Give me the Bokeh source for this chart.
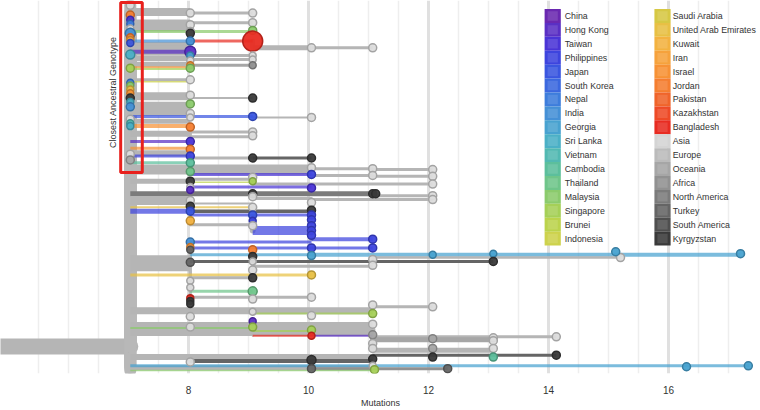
from bokeh.plotting import figure
from bokeh.models import Range1d, FixedTicker, BoxAnnotation, Label, ColumnDataSource
from bokeh.embed import file_html
from bokeh.resources import INLINE
from bokeh.core.properties import value

FONT = "Liberation Sans"

# ---------------- legend / colour scale ----------------
countries_left = ["China", "Hong Kong", "Taiwan", "Philippines", "Japan", "South Korea", "Nepal",
                  "India", "Georgia", "Sri Lanka", "Vietnam", "Cambodia", "Thailand", "Malaysia",
                  "Singapore", "Brunei", "Indonesia"]
countries_right = ["Saudi Arabia", "United Arab Emirates", "Kuwait", "Iran", "Israel", "Jordan",
                   "Pakistan", "Kazakhstan", "Bangladesh", "Asia", "Europe", "Oceania", "Africa",
                   "North America", "Turkey", "South America", "Kyrgyzstan"]
colors_left = ["#6a28b0", "#5a2fc4", "#4a34d6", "#3d44de", "#3a56e0", "#3b68df", "#3d7ddc",
               "#4590d6", "#48a2d0", "#4bb0c6", "#52b9b2", "#5cbf9c", "#6fc58a", "#8bcb6c",
               "#a5d057", "#bbd34c", "#cdd24c"]
colors_right = ["#d6c844", "#e8c044", "#f3b240", "#f6a23c", "#f79235", "#f57e30", "#f0642a",
                "#ee4a26", "#e82c22", "#d4d4d4", "#bbbbbb", "#a6a6a6", "#919191", "#7b7b7b",
                "#656565", "#4f4f4f", "#3a3a3a"]
COL = dict(zip(countries_left + countries_right, colors_left + colors_right))

# ---------------- tree branches ----------------
# (parent mutations, mutations, parent row, row, country, weight)
root_stem = [(4.6, 7.03, 358, 358, "Europe", 16)]

top_branches = [
    (7.03, 8.03, 358, 12, "Europe", 8), (8.03, 9.07, 12, 13, "Europe", 3),
    (7.03, 8.03, 358, 26, "Europe", 12), (8.03, 9.07, 26, 23, "Europe", 3),
    (7.03, 9.07, 358, 32, "Malaysia", 3),
    (7.03, 8.03, 358, 45, "Europe", 4),
    (7.03, 8.03, 358, 42, "India", 3), (8.03, 9.07, 42, 42, "Bangladesh", 3),
    (9.07, 10.05, 42, 49, "Europe", 5), (10.05, 11.07, 49, 49, "Europe", 3),
    (7.03, 8.03, 358, 52, "Europe", 10), (7.03, 8.03, 358, 53, "Hong Kong", 4),
    (7.03, 8.03, 358, 60, "Europe", 5),
    (8.03, 9.07, 52, 57, "Europe", 3), (8.03, 9.07, 52, 61, "Europe", 3),
    (7.03, 8.03, 358, 66, "Europe", 5), (8.03, 9.07, 66, 67, "Oceania", 3),
    (7.03, 8.03, 358, 69, "Israel", 2), (7.03, 8.03, 358, 71, "Singapore", 2),
    (7.03, 8.03, 358, 82, "Europe", 3),
    (7.03, 8.03, 358, 84, "Indonesia", 1.5),
    (7.03, 8.03, 358, 99, "Europe", 8), (8.03, 9.07, 99, 101, "Europe", 2),
    (7.03, 8.03, 358, 112, "Europe", 14),
    (7.03, 9.07, 358, 120, "Japan", 3), (9.07, 10.05, 120, 121, "Europe", 2),
    (7.03, 8.03, 358, 125, "Europe", 5),
    (7.03, 8.03, 358, 130, "Israel", 4),
    (7.03, 8.03, 358, 138, "Europe", 6), (8.03, 9.07, 138, 136, "Europe", 3),
    (8.03, 9.07, 138, 141, "Europe", 3),
    (7.03, 8.03, 358, 146, "Hong Kong", 3), (7.03, 8.03, 358, 153, "Israel", 3),
    (7.03, 8.03, 358, 158, "Europe", 6),
    (7.03, 8.03, 358, 161, "Philippines", 3), (8.03, 9.07, 161, 163, "Europe", 3),
    (9.07, 10.05, 163, 163, "Turkey", 3),
    (7.03, 8.03, 358, 168, "Cambodia", 3),
]

mid_branches = [
    (7.03, 10.05, 358, 175, "Europe", 10), (10.05, 11.07, 175, 174, "Europe", 3),
    (11.07, 12.07, 174, 175, "Europe", 3),
    (8.03, 10.05, 175, 180, "Taiwan", 3),
    (10.05, 11.07, 180, 181, "Europe", 3), (11.07, 12.07, 181, 182, "Europe", 3),
    (7.03, 8.03, 358, 187, "Europe", 5), (8.03, 9.07, 187, 185, "Europe", 3),
    (8.03, 9.07, 187, 188, "Brunei", 1.5), (9.07, 12.07, 185, 190, "Europe", 3),
    (8.03, 10.05, 187, 193, "Taiwan", 3),
    (7.03, 11.07, 358, 200, "North America", 5), (11.07, 12.07, 200, 202, "Europe", 3),
    (9.07, 10.05, 200, 205, "Europe", 3), (10.05, 12.07, 205, 206, "Europe", 3),
    (7.03, 8.03, 358, 207, "Europe", 9),
    (7.03, 9.07, 358, 210, "Europe", 2), (7.03, 9.07, 358, 214, "United Arab Emirates", 2),
    (7.03, 8.03, 358, 218, "Philippines", 5), (8.03, 10.05, 218, 218, "Turkey", 3.5),
    (8.03, 10.05, 218, 222, "Philippines", 3), (8.03, 9.07, 218, 232, "Europe", 3),
    (9.07, 10.05, 232, 238, "Philippines", 9), (10.05, 11.07, 238, 247, "Philippines", 4),
    (7.03, 8.03, 358, 272, "Europe", 16),
    (8.03, 10.05, 272, 250, "Philippines", 3), (8.03, 10.05, 272, 256, "Philippines", 3),
    (10.05, 11.07, 256, 256, "Philippines", 3),
    (8.03, 10.05, 272, 263, "Georgia", 3), (10.05, 17.2, 263, 263, "Georgia", 4),
    (8.03, 13.08, 272, 270, "Turkey", 3), (11.07, 15.2, 270, 266, "Europe", 2.5),
    (9.07, 11.07, 270, 275, "Europe", 3),
    (7.03, 10.05, 358, 284, "United Arab Emirates", 3),
    (8.03, 9.07, 272, 287, "Europe", 3), (8.03, 9.07, 272, 301, "Thailand", 3),
    (8.03, 10.05, 272, 307, "Europe", 3),
]

low_branches = [
    (7.03, 11.07, 358, 321, "Europe", 7), (11.07, 12.07, 321, 317, "Europe", 3),
    (9.07, 11.07, 321, 324, "Singapore", 2),
    (7.03, 11.07, 358, 340, "Europe", 14),
    (7.03, 9.07, 358, 339, "Malaysia", 2), (9.07, 10.05, 339, 342, "Singapore", 2),
    (9.07, 10.05, 339, 347, "Bangladesh", 2), (10.05, 11.07, 347, 347, "Hong Kong", 2),
    (11.07, 14.13, 340, 348, "Europe", 3), (11.07, 13.08, 340, 351, "Oceania", 5),
    (11.07, 13.08, 340, 362, "Europe", 5),
    (7.03, 11.07, 358, 369, "Europe", 6), (11.07, 14.13, 369, 367, "Turkey", 3),
    (8.03, 11.07, 369, 373, "Turkey", 4),
    (7.03, 11.07, 358, 380, "Europe", 5),
    (7.03, 17.35, 358, 378, "Georgia", 3),
    (10.05, 12.32, 373, 381, "Africa", 3),
    (7.03, 11.07, 358, 383, "Malaysia", 1.5),
]

# ---------------- sampled genotypes (points) ----------------
# (mutations, row, country, size)
pts_m7 = [(7.03, 5, "Asia", 8), (7.03, 15, "Jordan", 8), (7.03, 20, "Taiwan", 7), (7.03, 24, "Nepal", 7),
          (7.03, 29, "Asia", 7), (7.03, 34, "India", 10), (7.03, 38, "Jordan", 7), (7.03, 41, "Iran", 7),
          (7.03, 44, "Japan", 7), (7.03, 56, "Sri Lanka", 9), (7.03, 70, "Singapore", 8),
          (7.03, 85, "Nepal", 7), (7.03, 88, "Malaysia", 7), (7.03, 92, "United Arab Emirates", 7),
          (7.03, 96, "Israel", 7), (7.03, 101, "Kyrgyzstan", 8), (7.03, 105, "Sri Lanka", 7),
          (7.03, 110, "India", 8), (7.03, 123, "Asia", 8), (7.03, 127, "Vietnam", 7),
          (7.03, 130, "Sri Lanka", 7), (7.03, 159, "Asia", 8), (7.03, 165, "Oceania", 8)]
pts_m8 = [(8.03, 13, "Asia", 8), (8.03, 25, "Asia", 8), (8.03, 32, "Asia", 8), (8.03, 34, "Kyrgyzstan", 8),
          (8.03, 42, "India", 8), (8.03, 53, "Hong Kong", 11), (8.03, 57, "Georgia", 7),
          (8.03, 62, "Asia", 7), (8.03, 67, "Israel", 7), (8.03, 70, "Malaysia", 8),
          (8.03, 82, "Asia", 8), (8.03, 98, "Asia", 8), (8.03, 107, "Malaysia", 8),
          (8.03, 117, "Asia", 8), (8.03, 121, "Asia", 7), (8.03, 131, "Jordan", 8),
          (8.03, 146, "Taiwan", 8), (8.03, 154, "Jordan", 8), (8.03, 161, "Philippines", 8),
          (8.03, 168, "Cambodia", 8), (8.03, 177, "Thailand", 8), (8.03, 187, "Kyrgyzstan", 8),
          (8.03, 193, "Asia", 7), (8.03, 196, "Hong Kong", 7), (8.03, 207, "Asia", 8),
          (8.03, 213, "Kyrgyzstan", 8), (8.03, 218, "Japan", 8), (8.03, 228, "Kuwait", 8),
          (8.03, 250, "India", 8), (8.03, 255, "Israel", 7), (8.03, 258, "Turkey", 7),
          (8.03, 271, "Turkey", 8), (8.03, 290, "Asia", 7), (8.03, 297, "Asia", 7),
          (8.03, 308, "Bangladesh", 7), (8.03, 311, "Kyrgyzstan", 7), (8.03, 314, "Kyrgyzstan", 7),
          (8.03, 327, "Asia", 8), (8.03, 338, "Asia", 8), (8.03, 374, "Asia", 8)]
pts_m9 = [(9.07, 13, "Asia", 8), (9.07, 23, "Asia", 8), (9.07, 31, "Malaysia", 8),
          (9.07, 42, "Bangladesh", 20), (9.07, 57, "Asia", 7), (9.07, 61, "Asia", 7),
          (9.07, 67, "Africa", 7), (9.07, 101, "Kyrgyzstan", 8), (9.07, 120, "Japan", 8),
          (9.07, 136, "Asia", 8), (9.07, 140, "Asia", 8), (9.07, 163, "Kyrgyzstan", 8),
          (9.07, 183, "Asia", 8), (9.07, 187, "Singapore", 7), (9.07, 200, "Kyrgyzstan", 8),
          (9.07, 203, "Asia", 8), (9.07, 214, "Asia", 8), (9.07, 222, "Japan", 8),
          (9.07, 228, "Philippines", 7), (9.07, 233, "Asia", 8), (9.07, 258, "Jordan", 8),
          (9.07, 265, "Kyrgyzstan", 8), (9.07, 270, "Asia", 7), (9.07, 279, "Asia", 8),
          (9.07, 287, "Kyrgyzstan", 8), (9.07, 301, "Thailand", 9), (9.07, 309, "Asia", 8),
          (9.07, 322, "Asia", 7), (9.07, 332, "Hong Kong", 7), (9.07, 338, "Singapore", 8)]
pts_m10 = [(10.05, 49, "Asia", 8), (10.05, 121, "Asia", 8), (10.05, 163, "Kyrgyzstan", 8),
           (10.05, 173, "Asia", 8), (10.05, 180, "Philippines", 8), (10.05, 194, "Taiwan", 8),
           (10.05, 209, "Asia", 8), (10.05, 217, "Kyrgyzstan", 8), (10.05, 222, "Philippines", 8),
           (10.05, 227, "Philippines", 8), (10.05, 233, "Philippines", 8), (10.05, 238, "Philippines", 8),
           (10.05, 243, "Philippines", 8), (10.05, 256, "Philippines", 8), (10.05, 264, "Georgia", 8),
           (10.05, 284, "United Arab Emirates", 8), (10.05, 307, "Asia", 8), (10.05, 326, "Asia", 8),
           (10.05, 341, "Singapore", 8), (10.05, 347, "Bangladesh", 7), (10.05, 372, "Kyrgyzstan", 9),
           (10.05, 381, "Turkey", 8)]
pts_m11 = [(11.07, 49, "Asia", 8), (11.07, 174, "Asia", 8), (11.07, 181, "Asia", 8),
           (11.07, 200, "Kyrgyzstan", 8), (11.12, 200, "Kyrgyzstan", 8), (11.07, 247, "Philippines", 8),
           (11.07, 256, "Philippines", 8), (11.07, 268, "Asia", 8), (11.07, 274, "Asia", 8),
           (11.07, 315, "Asia", 8), (11.07, 324, "Singapore", 8), (11.07, 335, "Asia", 8),
           (11.07, 346, "Oceania", 8), (11.07, 355, "Asia", 8), (11.07, 360, "Asia", 8),
           (11.07, 371, "Kyrgyzstan", 8), (11.07, 378, "Asia", 7), (11.1, 382, "Singapore", 8)]
pts_far = [(12.07, 175, "Asia", 8), (12.07, 182, "Asia", 8), (12.07, 190, "Asia", 8),
           (12.07, 202, "Asia", 8), (12.07, 206, "Asia", 8), (12.07, 263, "Georgia", 7),
           (12.07, 317, "Asia", 8), (12.07, 350, "Oceania", 8), (12.07, 360, "Oceania", 8),
           (12.07, 369, "Kyrgyzstan", 8), (12.32, 381, "Turkey", 8),
           (13.08, 262, "Georgia", 7), (13.08, 270, "Kyrgyzstan", 8), (13.08, 349, "Asia", 8),
           (13.08, 352, "Asia", 8), (13.08, 360, "Asia", 8), (13.08, 369, "Cambodia", 8),
           (14.13, 348, "Asia", 8), (14.13, 367, "Kyrgyzstan", 8), (15.2, 266, "Asia", 8),
           (15.12, 260, "Georgia", 8), (17.2, 262, "Georgia", 8), (16.3, 379, "Georgia", 8),
           (17.33, 378, "Georgia", 8)]


def darker(hexc, f=0.78):
    r, g, b = (int(hexc[i:i + 2], 16) for i in (1, 3, 5))
    return "#%02x%02x%02x" % (int(r * f), int(g * f), int(b * f))


VGREY = "#b8b8b8"
ROOT_X = 7.03

p = figure(width=760, height=410, output_backend="svg", toolbar_location=None,
           x_range=Range1d(4.867, 17.533), y_range=Range1d(386, 0),
           min_border_left=0, min_border_right=0, min_border_top=0, min_border_bottom=0)
p.outline_line_color = None
p.background_fill_color = "white"
p.yaxis.visible = False
p.ygrid.visible = False

minor = [v / 2 for v in range(11, 35) if (v / 2) not in (8, 10, 12, 14, 16)]
p.xaxis.ticker = FixedTicker(ticks=[8, 10, 12, 14, 16], minor_ticks=minor)
p.xgrid.ticker = p.xaxis.ticker
p.xgrid.grid_line_color = "#e0e0e0"
p.xgrid.grid_line_width = 3
p.xgrid.minor_grid_line_color = "#eeeeee"
p.xgrid.minor_grid_line_width = 1.5
p.xaxis.axis_line_color = None
p.xaxis.major_tick_line_color = None
p.xaxis.minor_tick_line_color = None
p.xaxis.major_label_text_font = FONT
p.xaxis.major_label_text_font_size = "10px"
p.xaxis.major_label_text_color = "#333333"
p.xaxis.major_label_standoff = 6
p.xaxis.axis_label = "Mutations"
p.xaxis.axis_label_text_font = FONT
p.xaxis.axis_label_text_font_size = "9px"
p.xaxis.axis_label_text_font_style = "normal"
p.xaxis.axis_label_text_color = "#333333"
p.xaxis.axis_label_standoff = 1

# root stem (rounded end on the left)
p.segment(x0=[b[0] for b in root_stem], y0=[b[2] for b in root_stem],
          x1=[b[1] for b in root_stem], y1=[b[3] for b in root_stem],
          line_width=[b[5] for b in root_stem], line_color="#b5b5b5", line_cap="round")

all_branches = top_branches + mid_branches + low_branches

# vertical connectors (grey), incl. zero-length leaves on the trunk
vx, vy0, vy1, vw = [], [], [], []
for (x0, x1, y0, y1, c, w) in all_branches:
    if y0 != y1:
        vx.append(x0); vy0.append(y0); vy1.append(y1)
        vw.append(12 if x0 == ROOT_X else min(w, 6))
for (x, y, c, s) in pts_m7:
    vx.append(x); vy0.append(358); vy1.append(y); vw.append(12)
p.segment(x0=vx, y0=vy0, x1=vx, y1=vy1, line_width=vw, line_color=VGREY, line_cap="round")

# horizontal branches
hs = ColumnDataSource(dict(
    x0=[b[0] for b in all_branches], x1=[b[1] for b in all_branches],
    y=[b[3] for b in all_branches], w=[b[5] for b in all_branches],
    c=[COL[b[4]] if b[4] not in ("Europe", "Asia") else "#b5b5b5" for b in all_branches],
    a=[1.0 if b[4] in ("Europe", "Asia", "Oceania", "Africa", "North America", "Turkey") else 0.72
       for b in all_branches]))
p.segment(x0="x0", y0="y", x1="x1", y1="y", line_width="w", line_color="c", line_alpha="a",
          line_cap="butt", source=hs)

# points
all_pts = pts_m7 + pts_m8 + pts_m9 + pts_m10 + pts_m11 + pts_far
fills, lines = [], []
for (x, y, c, s) in all_pts:
    col = COL[c]
    if c in ("Asia", "Europe"):
        fills.append("#dcdcdc"); lines.append("#a3a3a3")
    else:
        fills.append(col); lines.append(darker(col))
ps = ColumnDataSource(dict(x=[q[0] for q in all_pts], y=[q[1] for q in all_pts],
                           s=[q[3] for q in all_pts], f=fills, l=lines))
p.scatter(x="x", y="y", size="s", fill_color="f", line_color="l", line_width=1.5,
          fill_alpha=0.95, source=ps)

# legend (colour column + labels)
row_h = 14.4
row0 = 16
for col_i, (names, cols, sx, tx) in enumerate([(countries_left, colors_left, 14.07, 14.27),
                                                (countries_right, colors_right, 15.9, 16.07)]):
    ys = [row0 + i * row_h for i in range(len(names))]
    p.rect(x=[sx] * len(ys), y=ys, width=0.27, height=row_h, fill_color=cols, line_color=None,
           fill_alpha=1.0)
    p.rect(x=[sx] * len(ys), y=ys, width=0.17, height=row_h * 0.68, fill_color="white",
           line_color=None, fill_alpha=0.12)
    p.text(x=[tx] * len(ys), y=ys, text=names, text_font=value(FONT), text_font_size="8.8px",
           text_color="#333333", text_baseline="middle", text_align="left")

# highlight box
p.add_layout(BoxAnnotation(left=6.87, right=7.23, top=2, bottom=178, fill_alpha=0,
                           line_color="#e8211d", line_alpha=1.0, line_width=3))
p.add_layout(Label(x=6.75, y=95, text="Closest Ancestral Genotype", angle=1.5708,
                   text_font=FONT, text_font_size="9px", text_color="#333333",
                   text_align="center", text_baseline="middle"))

open("out.html", "w").write(file_html(p, INLINE))
